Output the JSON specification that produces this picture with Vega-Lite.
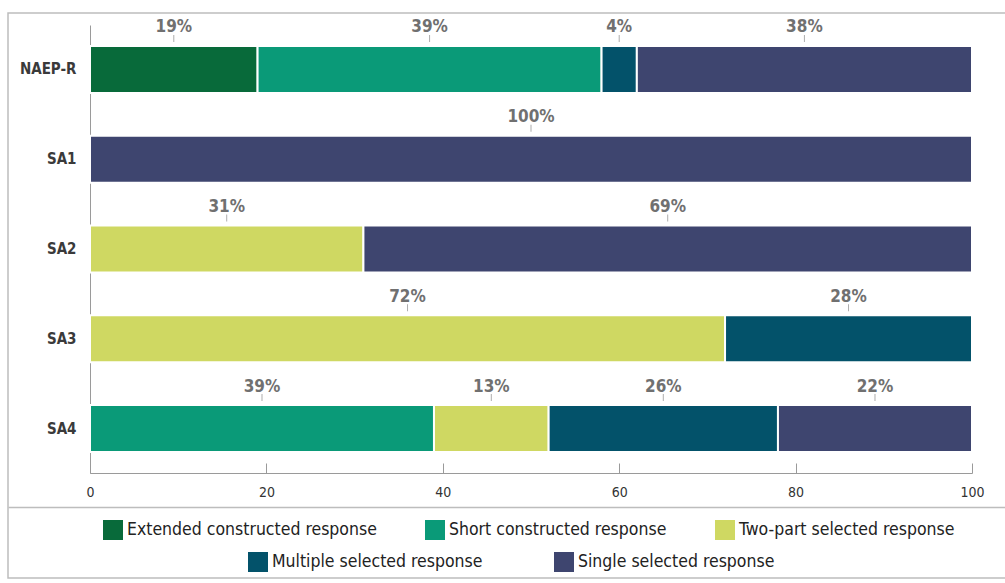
{
  "$schema": "https://vega.github.io/schema/vega-lite/v6.json",
  "width": 1002,
  "height": 565,
  "autosize": {"type": "none"},
  "padding": {"left": 8, "top": 13, "right": -5, "bottom": 5},
  "background": "white",
  "data": {
    "values": [
      {"item": "NAEP-R", "type": "Extended constructed response", "pct": 19, "ord": 1},
      {"item": "NAEP-R", "type": "Short constructed response", "pct": 39, "ord": 2},
      {"item": "NAEP-R", "type": "Multiple selected response", "pct": 4, "ord": 4},
      {"item": "NAEP-R", "type": "Single selected response", "pct": 38, "ord": 5},
      {"item": "SA1", "type": "Single selected response", "pct": 100, "ord": 5},
      {"item": "SA2", "type": "Two-part selected response", "pct": 31, "ord": 3},
      {"item": "SA2", "type": "Single selected response", "pct": 69, "ord": 5},
      {"item": "SA3", "type": "Two-part selected response", "pct": 72, "ord": 3},
      {"item": "SA3", "type": "Multiple selected response", "pct": 28, "ord": 4},
      {"item": "SA4", "type": "Short constructed response", "pct": 39, "ord": 2},
      {"item": "SA4", "type": "Two-part selected response", "pct": 13, "ord": 3},
      {"item": "SA4", "type": "Multiple selected response", "pct": 26, "ord": 4},
      {"item": "SA4", "type": "Single selected response", "pct": 22, "ord": 5}
    ]
  },
  "transform": [
    {"stack": "pct", "groupby": ["item"], "sort": [{"field": "ord", "order": "ascending"}], "as": ["start", "end"]},
    {"calculate": "(datum.start + datum.end) / 2", "as": "mid"},
    {"calculate": "format(datum.pct, 'd') + '%'", "as": "label"}
  ],
  "layer": [
    {
      "description": "Hidden copy of the bars: carries the second legend row and the divider grid line above the legend",
      "mark": {"type": "bar", "opacity": 0},
      "encoding": {
        "x": {"field": "start", "type": "quantitative", "axis": null},
        "x2": {"field": "end"},
        "y": {
          "field": "pct",
          "type": "quantitative",
          "scale": {"domain": [0, 565], "nice": false},
          "axis": {
            "title": null,
            "orient": "right",
            "values": [67],
            "grid": true,
            "gridColor": "#bdbdbd",
            "gridWidth": 1.5,
            "domain": false,
            "ticks": false,
            "labels": false
          }
        },
        "color": {
          "field": "type",
          "type": "nominal",
          "scale": {
            "domain": ["Extended constructed response", "Short constructed response", "Two-part selected response", "Multiple selected response", "Single selected response"],
            "range": ["#086a3a", "#0a9a78", "#cfd862", "#03526a", "#3e456f"]
          },
          "legend": {
            "values": ["Multiple selected response", "Single selected response"],
            "orient": "none",
            "legendX": 240,
            "legendY": 539,
            "direction": "horizontal",
            "columnPadding": 71,
            "title": null,
            "symbolOpacity": 1
          }
        }
      }
    },
    {
      "layer": [
        {
          "mark": {"type": "bar", "stroke": "white", "strokeWidth": 2},
          "encoding": {
            "x": {
              "field": "start",
              "type": "quantitative",
              "scale": {"domain": [0, 100], "nice": false, "range": [82, 964]},
              "axis": {
                "title": null,
                "offset": -105,
                "values": [0, 20, 40, 60, 80, 100],
                "grid": false,
                "tickSize": -10,
                "tickColor": "#9a9a9a",
                "domainColor": "#9a9a9a",
                "labelFlush": false,
                "labelFont": "DejaVu Sans Condensed, sans-serif",
                "labelFontSize": 14,
                "labelColor": "#333333",
                "labelPadding": 22
              }
            },
            "x2": {"field": "end"},
            "color": {
              "field": "type",
              "type": "nominal",
              "scale": {
                "domain": ["Extended constructed response", "Short constructed response", "Two-part selected response", "Multiple selected response", "Single selected response"],
                "range": ["#086a3a", "#0a9a78", "#cfd862", "#03526a", "#3e456f"]
              },
              "legend": {
                "values": ["Extended constructed response", "Short constructed response", "Two-part selected response"],
                "orient": "none",
                "legendX": 95,
                "legendY": 507,
                "direction": "horizontal",
                "columnPadding": 48,
                "title": null
              }
            }
          }
        },
        {
          "mark": {"type": "tick", "color": "#8a8a8a", "size": 7, "thickness": 1, "yOffset": -31},
          "encoding": {
            "x": {"field": "mid", "type": "quantitative"}
          }
        },
        {
          "mark": {
            "type": "text",
            "dy": -42,
            "font": "DejaVu Sans Condensed, sans-serif",
            "fontSize": 17,
            "fontWeight": "bold",
            "color": "#707070",
            "baseline": "middle"
          },
          "encoding": {
            "x": {"field": "mid", "type": "quantitative"},
            "text": {"field": "label"}
          }
        }
      ],
      "encoding": {
        "y": {
          "field": "item",
          "type": "nominal",
          "sort": ["NAEP-R", "SA1", "SA2", "SA3", "SA4"],
          "scale": {"paddingInner": 0.476, "paddingOuter": 0.233, "range": [12, 460]},
          "axis": {
            "title": null,
            "offset": -82,
            "ticks": false,
            "labelFont": "DejaVu Sans Condensed, sans-serif",
            "labelFontSize": 15,
            "labelFontWeight": "bold",
            "labelColor": "#3a3a3a",
            "labelPadding": 14,
            "domainColor": "#9a9a9a",
            "domainWidth": 1
          }
        }
      }
    }
  ],
  "resolve": {"scale": {"color": "independent", "y": "independent", "x": "independent"}},
  "config": {
    "view": {"stroke": "#bdbdbd", "strokeWidth": 1.5},
    "legend": {
      "symbolType": "square",
      "symbolSize": 400,
      "symbolStrokeWidth": 0,
      "labelFont": "DejaVu Sans Condensed, sans-serif",
      "labelFontSize": 17.5,
      "labelColor": "#222222",
      "labelLimit": 400,
      "symbolOffset": 0,
      "padding": 0
    }
  }
}
